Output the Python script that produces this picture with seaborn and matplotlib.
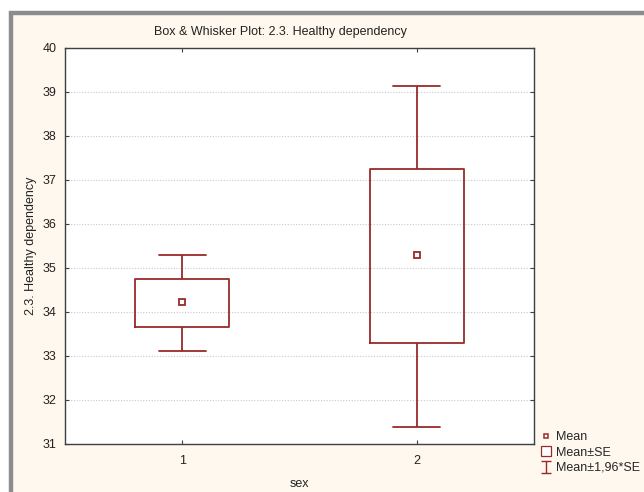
import numpy as np
import pandas as pd
import seaborn as sns
import matplotlib
matplotlib.use("Agg")
import matplotlib.pyplot as plt
from matplotlib.lines import Line2D
from matplotlib.patches import Rectangle
from matplotlib.path import Path

# Summary statistics per group
sex = ["1", "2"]
means = [34.22, 35.29]
se_low = [33.67, 33.30]
se_high = [34.76, 37.24]
ci_low = [33.12, 31.39]
ci_high = [35.29, 39.14]
y_ticks = list(range(31, 41))

title = "Box & Whisker Plot: 2.3. Healthy dependency"
y_label = "2.3. Healthy dependency"
x_label = "sex"
legend_labels = ["Mean", "Mean±SE", "Mean±1,96*SE"]

# Five summary points per group: whisker ends at mean±1.96*SE,
# box edges at mean±SE, centre at the mean.
rows = []
for s, m, a, b, c, d in zip(sex, means, se_low, se_high, ci_low, ci_high):
    for v in (c, a, m, b, d):
        rows.append({"sex": s, "value": v})
box_df = pd.DataFrame(rows)
mean_df = pd.DataFrame({"sex": sex, "value": means})

sns.set_theme(style="white")
plt.rcParams["font.family"] = ["Liberation Sans", "DejaVu Sans"]

RED = "#9a2a2a"
CREAM = "#FFF8EE"
SPINE = "#404040"

fig = plt.figure(figsize=(6.44, 4.92), dpi=100)
fig.patch.set_facecolor("white")
fig.patches.append(Rectangle((10.5 / 644, -0.1), 1.0, (492 - 12.5) / 492 + 0.1,
                             transform=fig.transFigure, facecolor=CREAM,
                             edgecolor="#8c8c8c", lw=3.2, zorder=-10))

ax = fig.add_axes([65 / 644, 48 / 492, (534 - 65) / 644, (444 - 48) / 492])
ax.set_facecolor("white")

sns.boxplot(data=box_df, x="sex", y="value", order=sex, width=0.4,
            whis=(0, 100), fill=False, color=RED, linecolor=RED,
            linewidth=1.3, showfliers=False,
            medianprops={"visible": False}, ax=ax)

sns.pointplot(data=mean_df, x="sex", y="value", order=sex, errorbar=None,
              markers="s", linestyles="none", color=RED,
              markersize=5, markerfacecolor="white", markeredgecolor=RED,
              markeredgewidth=1.3, ax=ax, zorder=5)

ax.set_xlim(-0.5, 1.5)
ax.set_ylim(31, 40)
ax.set_yticks(y_ticks)
ax.set_xticks([0, 1])
ax.set_xticklabels(sex)
ax.yaxis.grid(True, color="#c8c8c8", linestyle=(0, (1, 1.5)), linewidth=0.8)
ax.xaxis.grid(False)
ax.set_axisbelow(True)

for sp in ax.spines.values():
    sp.set_color(SPINE)
    sp.set_linewidth(1.0)

ax.tick_params(direction="in", length=3, width=0.8, top=True, right=True,
               left=True, bottom=True, colors=SPINE, labelcolor="#222222",
               labelsize=9)
ax.tick_params(axis="y", pad=6)
ax.tick_params(axis="x", pad=8)
ax.set_xlabel(x_label, fontsize=9, color="#222222", labelpad=7.5)
ax.set_ylabel(y_label, fontsize=9, color="#222222", labelpad=4)
fig.text(280 / 644, 1 - 32 / 492, title, ha="center", va="center",
         fontsize=9, color="#222222")

# I-beam marker for the 1.96*SE whiskers
ibeam = Path([(-0.37, 0.5), (0.37, 0.5), (0, 0.5), (0, -0.5),
              (-0.37, -0.5), (0.37, -0.5)],
             [Path.MOVETO, Path.LINETO, Path.MOVETO, Path.LINETO,
              Path.MOVETO, Path.LINETO])
handles = [
    Line2D([], [], marker="s", ls="none", markersize=3.2, mfc="white",
           mec=RED, mew=1.1, label=legend_labels[0]),
    Line2D([], [], marker="s", ls="none", markersize=7.6, mfc="white",
           mec=RED, mew=0.9, label=legend_labels[1]),
    Line2D([], [], marker=ibeam, ls="none", markersize=9.0, color=RED,
           mew=1.0, label=legend_labels[2]),
]
fig.legend(handles=handles, loc="lower left",
           bbox_to_anchor=(540 / 644, (492 - 474) / 492), frameon=False,
           fontsize=9, handletextpad=0.28, labelspacing=0.27,
           handlelength=1.0, borderpad=0, borderaxespad=0)

fig.savefig("out.png", dpi=100)
